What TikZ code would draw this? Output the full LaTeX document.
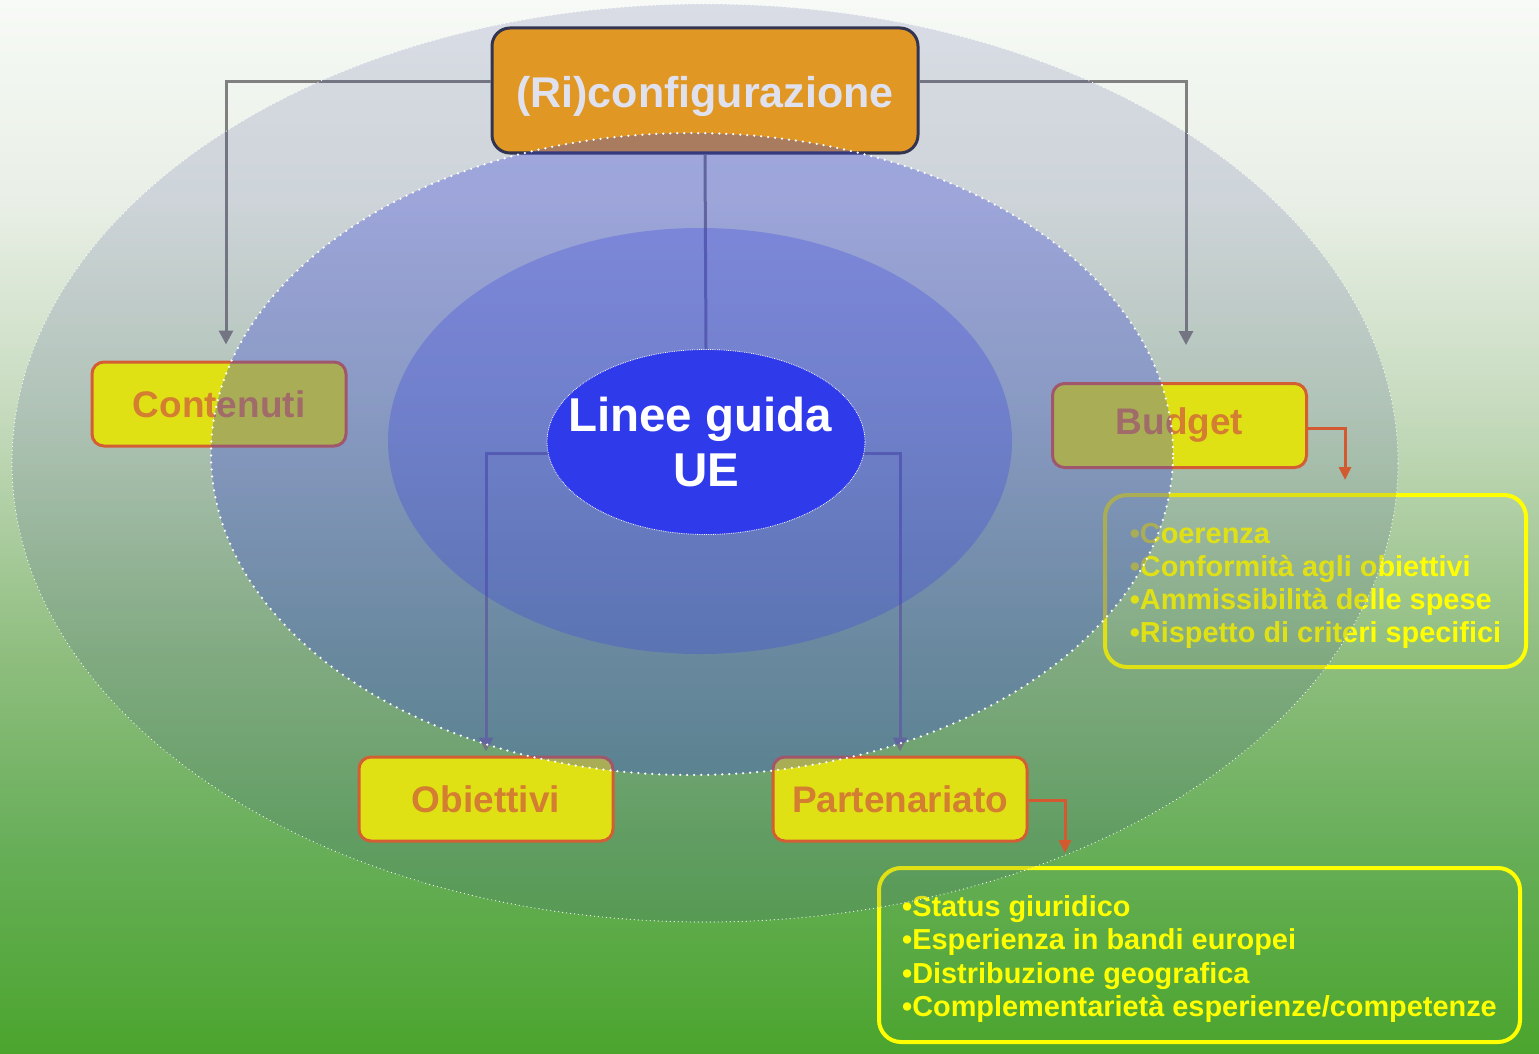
\documentclass[tikz,border=0pt]{standalone}
\usepackage{fontspec}
\setmainfont{Liberation Sans}
\usetikzlibrary{arrows.meta,shapes.geometric}
\definecolor{g0}{HTML}{4BA52D}
\definecolor{g1}{HTML}{67AE58}
\definecolor{g2}{HTML}{90BE80}
\definecolor{g3}{HTML}{C8DCC0}
\definecolor{g4}{HTML}{E9EFE6}
\definecolor{g5}{HTML}{F7FAF6}
\definecolor{ellA}{HTML}{343C90}
\definecolor{ellB}{HTML}{3A46DC}
\definecolor{ellC}{HTML}{3A46E0}
\definecolor{coreblue}{HTML}{2F3BEA}
\definecolor{rifill}{HTML}{FFA810}
\definecolor{ridraw}{HTML}{333344}
\definecolor{yfill}{HTML}{FFFF00}
\definecolor{ydraw}{HTML}{F06424}
\definecolor{ytext}{HTML}{F08A20}
\definecolor{connc}{HTML}{808080}
\definecolor{ocon}{HTML}{F06020}
\pgfdeclareverticalshading{bgshade}{100bp}{color(0bp)=(g0); color(25bp)=(g0); color(34.7bp)=(g1); color(44.15bp)=(g2); color(56bp)=(g3); color(65.5bp)=(g4); color(75bp)=(g5); color(100bp)=(g5)}
\pgfdeclarelayer{bg}
\pgfdeclarelayer{ell}
\pgfdeclarelayer{top}
\pgfsetlayers{bg,main,ell,top}
\tikzset{
  ribox/.style={draw=ridraw, line width=3pt, fill=rifill, rounded corners=18pt,
    minimum width=426pt, minimum height=125pt, text=white,
    font=\fontsize{43}{50}\selectfont\bfseries},
  ybox/.style={draw=ydraw, line width=3pt, fill=yfill, rounded corners=12pt,
    minimum width=254pt, minimum height=84pt, text=ytext,
    font=\fontsize{37}{44}\selectfont\bfseries},
  lbox/.style={draw=yfill, line width=4pt, rounded corners=22pt, align=left,
    text=yfill, font=\fontsize{28.9}{33.3}\selectfont\bfseries},
  core/.style={ellipse, fill=coreblue, draw=white, densely dotted, line width=0.8pt,
    minimum width=318pt, minimum height=185pt, inner sep=0pt, text=white, align=center,
    font=\fontsize{47.5}{55}\selectfont\bfseries},
  conn/.style={draw=connc, line width=3pt, -{Triangle[length=14pt,width=14pt]}},
  plainconn/.style={draw=connc, line width=3pt},
  oconn/.style={draw=ocon, line width=3pt, -{Triangle[length=13pt,width=12pt]}},
  dots/.style={draw=white, line width=2.5pt, line cap=round, dash pattern=on 0pt off 7pt},
  finedots/.style={draw=white, line width=1.2pt, line cap=round, dash pattern=on 0pt off 4pt}
}
\begin{document}
\begin{tikzpicture}[x=1pt,y=-1pt]
\begin{pgfonlayer}{bg}
\shade[shading=bgshade] (0,0) rectangle (1539,1054);
\end{pgfonlayer}
\useasboundingbox (0,0) rectangle (1539,1054);

\begin{pgfonlayer}{top}
\node[core] (lin) at (706,442) {\makebox[0pt]{\hspace*{-12pt}Linee guida}\\\makebox[0pt]{UE}};
\end{pgfonlayer}

\node[ribox] (rico) at (705,90.5) {\raisebox{-6pt}[\height][\depth]{(Ri)configurazione}};
\node[ybox] (cont) at (219,404) {Contenuti};
\node[ybox] (budg) at (1179.5,425.5) {Budget};
\node[ybox] (obie) at (486,799) {Obiettivi};
\node[ybox] (part) at (900,799) {Partenariato};
\node[lbox, minimum width=421pt, minimum height=172pt] (blist) at (1315.5,581)
  {\rule{0pt}{30pt}•Coerenza\\•Conformità agli obiettivi\\•Ammissibilità delle spese\\•Rispetto di criteri specifici};
\node[lbox, minimum width=641pt, minimum height=174pt] (plist) at (1199.5,955)
  {\rule{0pt}{29pt}•Status giuridico\\•Esperienza in bandi europei\\•Distribuzione geografica\\•Complementarietà esperienze/competenze};

\coordinate (btip) at (1345,480);
\coordinate (ptip) at (1065,853);

\draw[conn] ([yshift=8.5pt]rico.west) -| ([xshift=7pt,yshift=16pt]cont.north);
\draw[conn] ([yshift=8.5pt]rico.east) -| ([xshift=6.5pt,yshift=37pt]budg.north);
\draw[plainconn] (rico.south) -- (lin.north);
\draw[conn] ([yshift=-11pt]lin.center) -| ([yshift=4pt]obie.north);
\draw[conn] ([yshift=-11pt]lin.center) -| ([yshift=4pt]part.north);
\draw[oconn] ([yshift=-2.5pt]budg.east) -| (btip);
\draw[oconn] ([yshift=-1pt]part.east) -| (ptip);

\begin{pgfonlayer}{ell}
\fill[ellA, fill opacity=0.15] (705,463) ellipse [x radius=693pt, y radius=459pt];
\draw[finedots] (705,463) ellipse [x radius=693pt, y radius=459pt];
\fill[ellB, fill opacity=0.33] (692,454) ellipse [x radius=481pt, y radius=321pt];
\draw[dots] (692,454) ellipse [x radius=481pt, y radius=321pt];
\fill[ellC, fill opacity=0.3] (700,441) ellipse [x radius=312pt, y radius=213pt];
\end{pgfonlayer}
\end{tikzpicture}
\end{document}
